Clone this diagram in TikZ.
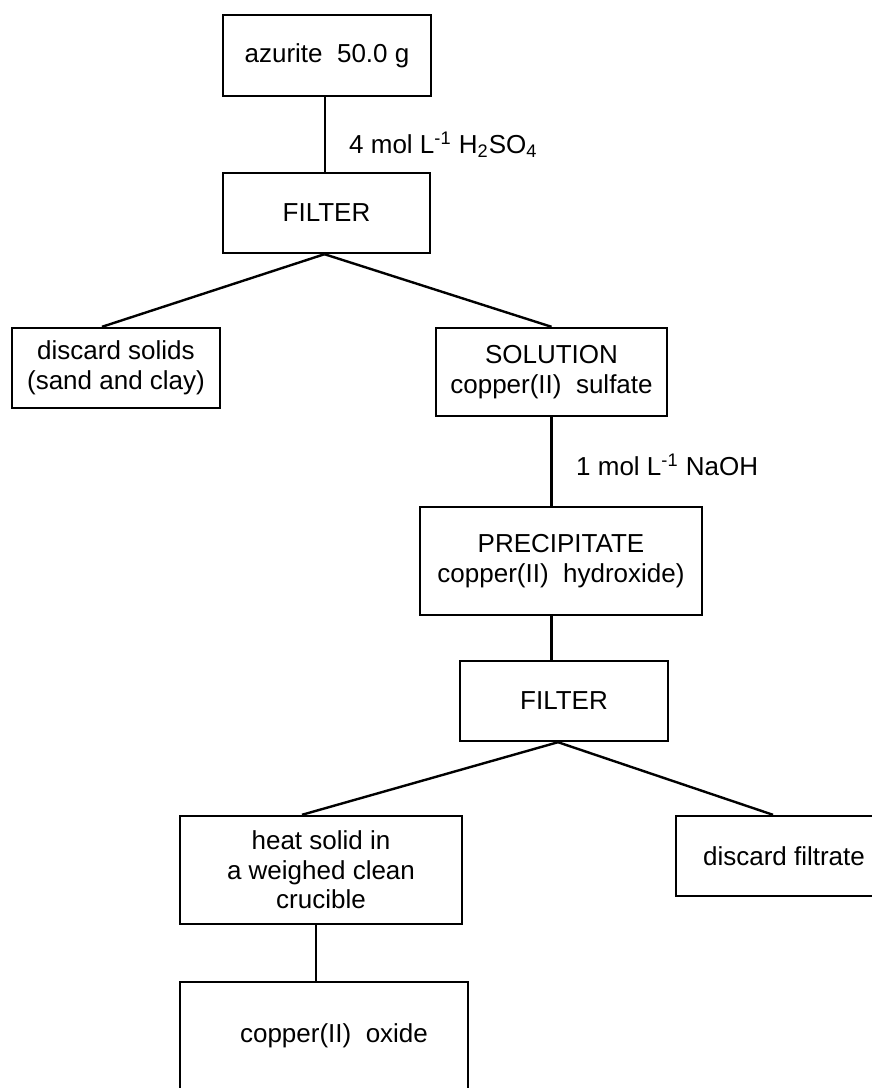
\documentclass[tikz,border=0pt]{standalone}
\usepackage{fontspec}
\setmainfont{Liberation Sans}

\begin{document}
\begin{tikzpicture}[x=0.5pt,y=-0.5pt,line width=1.2pt,
  stage/.style={draw,align=center,inner sep=0pt,font=\fontsize{13}{14.75}\selectfont},
  reagent/.style={anchor=base west,inner sep=0pt,font=\fontsize{13}{14.75}\selectfont}]
\useasboundingbox (0,0) rectangle (872,1088);
% Starting material and first filtration
\node[stage,minimum width=104pt,minimum height=40.5pt] (azurite) at (327,55.5) {azurite\ \ 50.0 g};
\node[stage,minimum width=103.5pt,minimum height=40pt] (filterA) at (326.5,213) {FILTER};
\draw ([xshift=-1pt]azurite.south) -- ([xshift=-1pt]azurite.south |- filterA.north);
\node[reagent] (acid) at (348,153) {4 mol L\textsuperscript{-1} H\textsubscript{2}SO\textsubscript{4}};
% Split after first filtration
\node[stage,minimum width=104pt,minimum height=40pt] (solids) at (116,368) {discard solids\\(sand and clay)};
\node[stage,minimum width=115.5pt,minimum height=44pt] (solution) at (551.5,372) {SOLUTION\\copper(II)~~sulfate};
\draw ([xshift=-1pt]filterA.south) -- ([xshift=-7pt]solids.north);
\draw ([xshift=-1pt]filterA.south) -- (solution.north);
% Precipitation with base
\node[stage,minimum width=141pt,minimum height=54pt] (precip) at (561,561) {PRECIPITATE\\copper(II)~~hydroxide)};
\draw (solution.south) -- (solution.south |- precip.north);
\node[reagent] (base) at (575,475) {1 mol L\textsuperscript{-1} NaOH};
% Second filtration
\node[stage,minimum width=104pt,minimum height=40pt] (filterB) at (564,701) {FILTER};
\draw (solution.south |- precip.south) -- (solution.south |- filterB.north);
\node[stage,minimum width=141pt,minimum height=54pt] (heat) at (321,870) {heat solid in\\a weighed clean\\crucible};
\node[stage,minimum width=108pt,minimum height=40pt] (filtrate) at (784,856) {discard filtrate};
\draw ([xshift=-3pt]filterB.south) -- ([xshift=-9.5pt]heat.north);
\draw ([xshift=-3pt]filterB.south) -- ([xshift=-5.5pt]filtrate.north);
% Product
\node[stage,minimum width=144pt,minimum height=54pt] (oxide) at (324,1036) {\hspace{10pt}copper(II)~~oxide};
\draw ([xshift=-2.5pt]heat.south) -- ([xshift=-2.5pt]heat.south |- oxide.north);
\end{tikzpicture}
\end{document}
